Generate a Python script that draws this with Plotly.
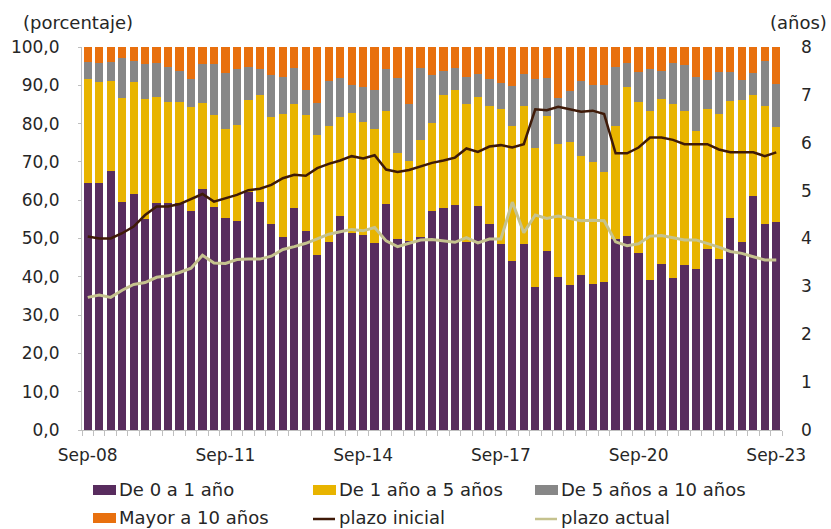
import plotly.graph_objects as go

# ---- data (quarterly, Sep-08 .. Sep-23) ----
months = ["Mar", "Jun", "Sep", "Dic"]
quarters = []
for yr in range(8, 24):
    for m in months:
        quarters.append(f"{m}-{yr:02d}")
quarters = quarters[quarters.index("Sep-08"):quarters.index("Sep-23") + 1]

tick_labels = ["Sep-08", "Sep-11", "Sep-14", "Sep-17", "Sep-20", "Sep-23"]

de_0_a_1 = [64.4, 64.4, 67.7, 59.6, 61.6, 55.0, 59.4, 59.4, 59.2, 57.2, 62.9, 58.3,
            55.3, 54.7, 62.1, 59.6, 53.8, 50.5, 57.9, 52.0, 45.7, 49.2, 55.9, 51.4,
            50.9, 48.7, 59.0, 49.8, 49.4, 50.3, 57.2, 58.0, 58.7, 49.2, 58.5, 53.9,
            48.6, 44.0, 48.6, 37.3, 46.8, 39.9, 37.8, 40.5, 38.0, 38.6, 49.9, 50.7,
            46.3, 39.2, 43.3, 39.8, 43.0, 42.0, 47.3, 44.6, 55.4, 49.1, 61.1, 53.8, 54.4]
de_1_a_5 = [27.2, 26.4, 23.5, 27.2, 29.2, 31.5, 27.6, 26.2, 26.4, 27.1, 22.6, 23.9,
            23.2, 24.9, 24.1, 27.9, 27.8, 32.0, 27.3, 30.3, 31.4, 30.2, 25.8, 31.3,
            29.5, 30.0, 24.2, 22.6, 20.9, 25.4, 22.9, 29.4, 30.1, 35.9, 28.4, 30.7,
            35.3, 35.4, 36.0, 36.3, 35.2, 34.8, 37.5, 31.1, 32.1, 28.8, 29.4, 38.8,
            39.3, 44.1, 43.2, 45.2, 40.3, 36.0, 36.4, 38.0, 30.6, 37.1, 26.4, 30.8, 24.7]
de_5_a_10 = [4.4, 4.9, 5.0, 10.4, 5.6, 9.1, 8.7, 9.3, 8.2, 7.3, 10.1, 13.4,
             14.6, 14.6, 8.5, 6.7, 11.0, 9.6, 9.2, 6.5, 8.4, 11.7, 10.3, 7.5,
             9.2, 10.1, 11.1, 19.5, 14.8, 18.9, 12.5, 6.4, 5.8, 7.1, 6.1, 7.0,
             6.6, 10.5, 8.3, 18.0, 9.8, 11.9, 13.3, 19.5, 19.9, 22.8, 15.6, 6.2,
             7.8, 10.9, 7.3, 10.7, 12.1, 14.2, 7.7, 10.8, 7.6, 5.3, 5.6, 11.8, 11.2]
mayor_10 = [4.0, 4.3, 3.8, 2.8, 3.6, 4.4, 4.3, 5.1, 6.2, 8.4, 4.4, 4.4,
            6.9, 5.8, 5.3, 5.8, 7.4, 7.9, 5.6, 11.2, 14.5, 8.9, 8.0, 9.8,
            10.4, 11.2, 5.7, 8.1, 14.9, 5.4, 7.4, 6.2, 5.4, 7.8, 7.0, 8.4,
            9.5, 10.1, 7.1, 8.4, 8.2, 13.4, 11.4, 8.9, 10.0, 9.8, 5.1, 4.3,
            6.6, 5.8, 6.2, 4.3, 4.6, 7.8, 8.6, 6.6, 6.4, 8.5, 6.9, 3.6, 9.7]
plazo_inicial = [4.04, 4.00, 4.00, 4.11, 4.25, 4.49, 4.67, 4.67, 4.72, 4.82, 4.93, 4.77,
                 4.84, 4.91, 5.01, 5.04, 5.12, 5.26, 5.33, 5.31, 5.47, 5.56, 5.63, 5.72,
                 5.67, 5.74, 5.44, 5.39, 5.43, 5.50, 5.58, 5.63, 5.69, 5.88, 5.81, 5.92,
                 5.95, 5.90, 5.97, 6.70, 6.68, 6.75, 6.70, 6.65, 6.67, 6.60, 5.78, 5.78,
                 5.90, 6.11, 6.11, 6.06, 5.97, 5.97, 5.97, 5.86, 5.80, 5.80, 5.80, 5.72, 5.80]
plazo_actual = [2.77, 2.82, 2.77, 2.92, 3.04, 3.08, 3.19, 3.22, 3.29, 3.38, 3.65, 3.49,
                3.48, 3.56, 3.57, 3.57, 3.63, 3.77, 3.83, 3.90, 3.99, 4.09, 4.14, 4.19,
                4.16, 4.23, 3.95, 3.83, 3.90, 3.97, 3.98, 3.95, 3.92, 4.02, 3.91, 3.99,
                3.99, 4.76, 4.12, 4.49, 4.42, 4.47, 4.42, 4.37, 4.38, 4.37, 3.93, 3.85,
                3.89, 4.05, 4.06, 4.02, 3.97, 3.97, 3.90, 3.82, 3.73, 3.69, 3.62, 3.55, 3.55]

# ---- styles ----
C_PURPLE = "#582C5E"
C_YELLOW = "#E8B400"
C_GRAY = "#878787"
C_ORANGE = "#E8700E"
C_BROWN = "#3F1A08"
C_KHAKI = "#C5C28E"
FONT = "DejaVu Sans"
TXT = "#262626"

W, H = 831, 529
ML, MR, MT, MB = 82, 49, 47, 99
PW, PH = W - ML - MR, H - MT - MB

x = list(range(len(quarters)))
tickvals = [quarters.index(t) for t in tick_labels]

fig = go.Figure()
bar_series = [("De 0 a 1 año", de_0_a_1, C_PURPLE),
              ("De 1 año a 5 años", de_1_a_5, C_YELLOW),
              ("De 5 años a 10 años", de_5_a_10, C_GRAY),
              ("Mayor a 10 años", mayor_10, C_ORANGE)]
for name, vals, col in bar_series:
    fig.add_trace(go.Bar(x=x, y=vals, name=name, marker=dict(color=col, line=dict(width=0)),
                         customdata=quarters, hovertemplate="%{customdata}: %{y:.1f}<extra>" + name + "</extra>"))
fig.add_trace(go.Scatter(x=x, y=plazo_inicial, name="plazo inicial", yaxis="y2", mode="lines",
                         line=dict(color=C_BROWN, width=2.5)))
fig.add_trace(go.Scatter(x=x, y=plazo_actual, name="plazo actual", yaxis="y2", mode="lines",
                         line=dict(color=C_KHAKI, width=3)))


def px2x(px):
    return (px - ML) / PW


def py2y(py):
    return (H - MB - py) / PH


shapes = []
annotations = []
# custom legend (symbol directly followed by text, as in the reference)
legend_items = [
    ("De 0 a 1 año", "box", C_PURPLE, 93, 490),
    ("De 1 año a 5 años", "box", C_YELLOW, 313, 490),
    ("De 5 años a 10 años", "box", C_GRAY, 535, 490),
    ("Mayor a 10 años", "box", C_ORANGE, 93, 518),
    ("plazo inicial", "line", C_BROWN, 313, 518),
    ("plazo actual", "line", C_KHAKI, 535, 518),
]
for label, kind, col, lx, ly in legend_items:
    if kind == "box":
        shapes.append(dict(type="rect", xref="paper", yref="paper",
                           x0=px2x(lx), x1=px2x(lx + 23), y0=py2y(ly + 5), y1=py2y(ly - 5),
                           fillcolor=col, line=dict(width=0)))
    else:
        shapes.append(dict(type="line", xref="paper", yref="paper",
                           x0=px2x(lx), x1=px2x(lx + 22), y0=py2y(ly + 1), y1=py2y(ly + 1),
                           line=dict(color=col, width=2.5)))
    annotations.append(dict(text=label, xref="paper", yref="paper", x=px2x(lx + 24), y=py2y(ly - 1),
                            xanchor="left", yanchor="middle", showarrow=False,
                            font=dict(family=FONT, size=18, color=TXT)))

annotations.append(dict(text="(porcentaje)", xref="paper", yref="paper", x=px2x(21), y=py2y(23),
                        xanchor="left", yanchor="middle", showarrow=False,
                        font=dict(family=FONT, size=18, color=TXT)))
annotations.append(dict(text="(años)", xref="paper", yref="paper", x=px2x(829), y=py2y(23),
                        xanchor="right", yanchor="middle", showarrow=False,
                        font=dict(family=FONT, size=18, color=TXT)))

fig.update_layout(
    width=W, height=H,
    margin=dict(l=ML, r=MR, t=MT, b=MB, pad=0),
    paper_bgcolor="white", plot_bgcolor="white",
    barmode="stack", bargap=0.28,
    showlegend=False,
    separators=",.",
    font=dict(family=FONT, size=17, color=TXT),
    shapes=shapes, annotations=annotations,
    xaxis=dict(range=[-0.5, len(x) - 0.5], tickmode="array", tickvals=tickvals, ticktext=tick_labels,
               ticks="", showgrid=False, zeroline=False, showline=True, linecolor="#bfbfbf",
               linewidth=1, tickfont=dict(family=FONT, size=17, color=TXT),
               minor=dict(tickmode="array", tickvals=[i - 0.5 for i in range(len(x) + 1)],
                          ticks="outside", ticklen=5, tickcolor="#bfbfbf", showgrid=False),
               ticklabelstandoff=10),
    yaxis=dict(range=[0, 100], dtick=10, tickformat=".1f", showgrid=False, zeroline=False,
               showline=True, linecolor="#bfbfbf", ticks="outside", ticklen=3, tickcolor="#bfbfbf",
               tickfont=dict(family=FONT, size=17, color=TXT), ticklabelstandoff=15),
    yaxis2=dict(range=[0, 8], dtick=1, overlaying="y", side="right", showgrid=False,
                zeroline=False, showline=False, ticks="",
                tickfont=dict(family=FONT, size=17, color=TXT), ticklabelstandoff=18),
)

fig.write_html("out.html", config={"displayModeBar": False},
               post_script="document.body.style.margin='0px';")
